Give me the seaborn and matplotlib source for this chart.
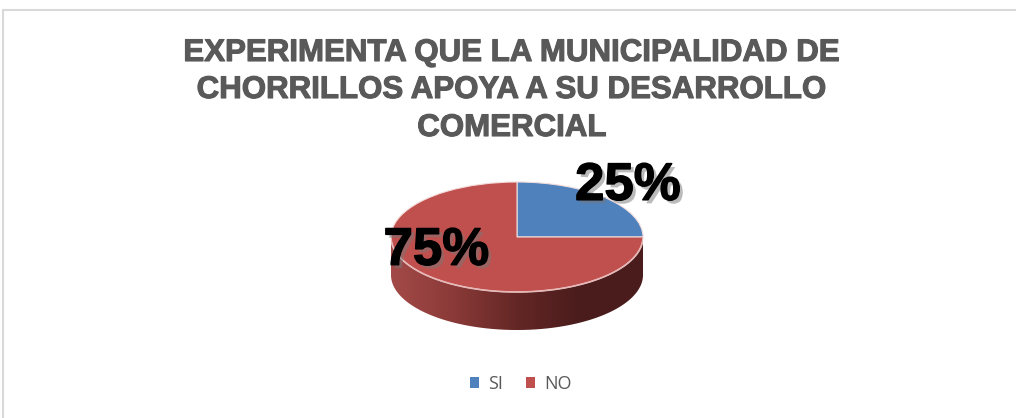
import numpy as np
import matplotlib.pyplot as plt
import matplotlib.patheffects as pe
from matplotlib.colors import LinearSegmentedColormap
from matplotlib.patches import Polygon
from matplotlib.lines import Line2D
import seaborn as sns

# data
categories = ['SI', 'NO']
percentages = [25, 75]
title_lines = ['EXPERIMENTA QUE LA MUNICIPALIDAD DE',
               'CHORRILLOS APOYA A SU DESARROLLO',
               'COMERCIAL']

sns.set_theme(style='white')
plt.rcParams['font.family'] = ['Liberation Sans', 'DejaVu Sans']

colors = sns.color_palette(['#4F81BD', '#C0504D'])
gray = '#595959'

W, H = 1016, 418
fig = plt.figure(figsize=(W / 100, H / 100), dpi=100)

# pie geometry (pixels)
cx, cy = 517, 237
rx, ry = 126, 55
depth = 38
dep = depth / ry

ax = fig.add_axes([(cx - rx) / W, (H - (cy + ry + depth)) / H,
                   2 * rx / W, (2 * ry + depth) / H])

# side of the 3D pie with a dark gradient
theta = np.linspace(np.pi, 2 * np.pi, 200)
top = np.column_stack([np.cos(theta), np.sin(theta)])
bot = np.column_stack([np.cos(theta[::-1]), np.sin(theta[::-1]) - dep])
side = Polygon(np.vstack([top, bot]), closed=True, facecolor='none',
               edgecolor='none')
ax.add_patch(side)
cmap = LinearSegmentedColormap.from_list(
    'side', ['#a34a48', '#8a3a38', '#632725', '#4a1c1c', '#4a1c1c'])
grad = np.linspace(0, 1, 256).reshape(1, -1)
im = ax.imshow(grad, cmap=cmap, extent=(-1, 1, -1 - dep, 0),
               aspect='auto', zorder=0)
im.set_clip_path(side)

wedges, texts, autotexts = ax.pie(
    percentages, colors=colors, startangle=0, counterclock=True,
    autopct='%d%%', radius=1,
    wedgeprops=dict(edgecolor='#f2dcdb', linewidth=0.8, zorder=2))

ax.plot(np.cos(theta), np.sin(theta), color='#e6b9b8', lw=1.2, zorder=3)

ax.set_aspect('auto')
ax.set_xlim(-1, 1)
ax.set_ylim(-1 - dep, 1)
ax.axis('off')

label_pos = [(0.88, 0.93), (-0.64, -0.25)]
for t, p in zip(autotexts, label_pos):
    t.set_position(p)
    t.set_fontsize(38)
    t.set_fontweight('bold')
    t.set_color('black')
    t.set_ha('center')
    t.set_va('center')
    t.set_zorder(5)
    t.set_path_effects([
        pe.SimplePatchShadow(offset=(2.5, -2.5), shadow_rgbFace='#777777', alpha=0.5),
        pe.Stroke(linewidth=1.0, foreground='black'),
        pe.Normal()])

# title
title_y = [53, 90, 128]
for line, y in zip(title_lines, title_y):
    fig.text(512 / W, 1 - y / H, line, ha='center', va='center',
             fontsize=22.5, fontweight='bold', color=gray,
             path_effects=[pe.Stroke(linewidth=0.8, foreground=gray), pe.Normal()])

# legend
leg = fig.legend(wedges, categories, loc='center',
                 bbox_to_anchor=(521 / W, 1 - 384 / H), ncol=2, frameon=False,
                 handlelength=0.5, handleheight=0.5, handletextpad=0.5,
                 columnspacing=1.3, labelcolor=gray,
                 prop={'family': 'Open Sans', 'size': 13})
for h in leg.legend_handles:
    h.set_edgecolor('none')

# chart border (top and left)
fig.add_artist(Line2D([3 / W, 1], [1 - 10 / H, 1 - 10 / H],
                      color='#d9d9d9', lw=1.5, transform=fig.transFigure))
fig.add_artist(Line2D([3 / W, 3 / W], [0, 1 - 10 / H],
                      color='#d9d9d9', lw=1.5, transform=fig.transFigure))

fig.savefig('out.png', dpi=100)
